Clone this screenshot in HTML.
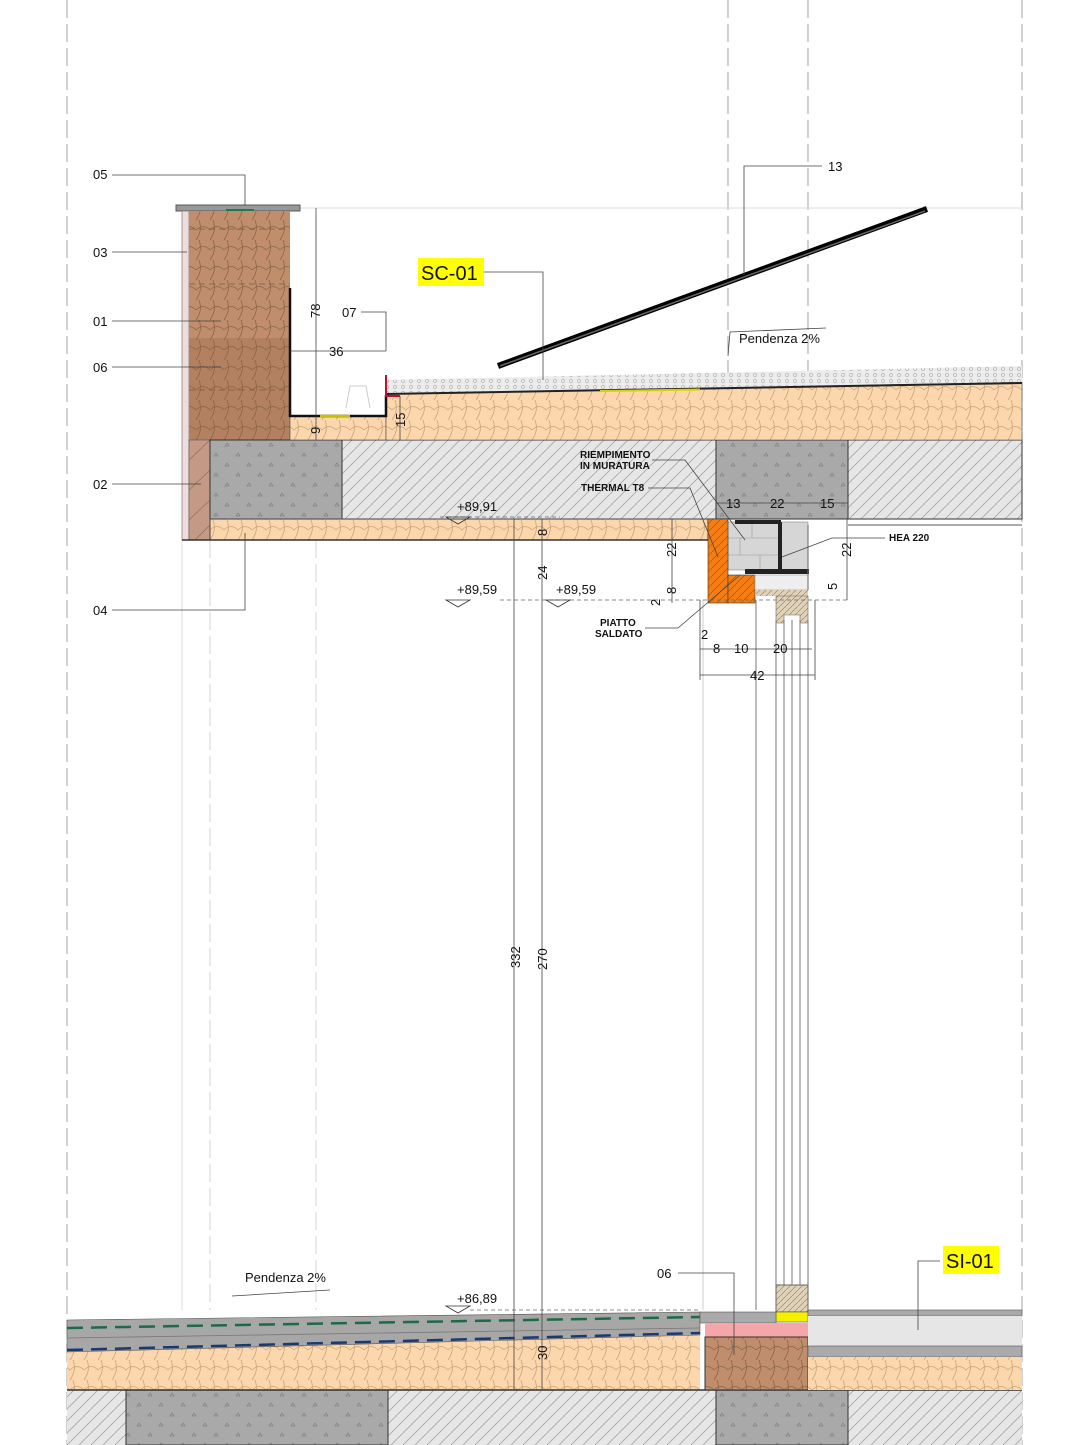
<!DOCTYPE html>
<html><head><meta charset="utf-8"><style>
html,body{margin:0;padding:0;background:#fff}
svg{display:block}
text{font-family:"Liberation Sans",sans-serif;font-size:13px;fill:#111}
.s{font-size:10px;font-weight:bold}
</style></head><body>
<svg width="1080" height="1445" viewBox="0 0 1080 1445" xmlns="http://www.w3.org/2000/svg">
<defs>
<pattern id="ins" width="28" height="20" patternUnits="userSpaceOnUse">
<rect width="28" height="20" fill="#fcd6ac"/>
<path d="M0 20 Q7 10 3 0 M14 20 Q21 10 17 0 M0 10 Q7 3 14 10 Q21 3 28 10" stroke="#c9a37a" stroke-width="0.8" fill="none"/>
</pattern>
<pattern id="insb" width="28" height="20" patternUnits="userSpaceOnUse">
<rect width="28" height="20" fill="#c08e6c"/>
<path d="M0 20 Q7 10 3 0 M14 20 Q21 10 17 0 M0 10 Q7 3 14 10 Q21 3 28 10" stroke="#8a6448" stroke-width="0.8" fill="none"/>
</pattern>
<pattern id="hat" width="12" height="12" patternUnits="userSpaceOnUse">
<rect width="12" height="12" fill="#e6e6e6"/>
<path d="M0 12 L12 0 M-3 3 L3 -3 M9 15 L15 9" stroke="#9a9a9a" stroke-width="0.7"/>
</pattern>
<pattern id="con" width="22" height="20" patternUnits="userSpaceOnUse">
<rect width="22" height="20" fill="#a9a9a9"/>
<path d="M5 6 l2 -3 l2 3z M16 16 l2 -3 l2 3z" fill="none" stroke="#777" stroke-width="0.6"/>
</pattern>
<pattern id="gra" width="8" height="6" patternUnits="userSpaceOnUse">
<rect width="8" height="6" fill="#ececec"/><circle cx="3" cy="3" r="1.6" fill="none" stroke="#aaa" stroke-width="0.6"/>
</pattern>
<pattern id="orh" width="8" height="8" patternUnits="userSpaceOnUse">
<rect width="8" height="8" fill="#f57d12"/><path d="M0 8 L8 0" stroke="#b55408" stroke-width="0.7"/>
</pattern>
<pattern id="wd" width="6" height="6" patternUnits="userSpaceOnUse">
<rect width="6" height="6" fill="#e0d2b8"/><path d="M0 6 L6 0" stroke="#8a7a60" stroke-width="0.6"/>
</pattern>
</defs>

<g stroke="#999" stroke-width="0.9" stroke-dasharray="18 6" fill="none">
<line x1="67" y1="0" x2="67" y2="1445"/>
<line x1="1022" y1="0" x2="1022" y2="1445"/>
<line x1="728" y1="0" x2="728" y2="440"/>
<line x1="808" y1="0" x2="808" y2="440"/>
</g>
<g stroke="#d4d4d4" stroke-width="1" stroke-dasharray="18 6" fill="none">
<line x1="210" y1="540" x2="210" y2="1310"/>
<line x1="316" y1="540" x2="316" y2="1310"/>
</g>
<line x1="182" y1="540" x2="182" y2="1310" stroke="#ddd"/>
<line x1="300" y1="208" x2="1022" y2="208" stroke="#ddd"/>

<rect x="176" y="205" width="124" height="6" fill="#999" stroke="#555"/>
<rect x="226" y="209" width="28" height="3" fill="#1a7a50"/>
<rect x="182" y="211" width="7" height="329" fill="#f0dcdc" stroke="#666" stroke-width="0.6"/>
<rect x="189" y="211" width="101" height="229" fill="url(#insb)"/>
<rect x="189" y="338" width="101" height="102" fill="#8a5a3a" opacity="0.25"/>
<g stroke="#7a5a40" stroke-dasharray="6 4" stroke-width="0.7"><line x1="189" y1="229" x2="290" y2="229"/><line x1="189" y1="284" x2="290" y2="284"/><line x1="189" y1="390" x2="290" y2="390"/></g>
<rect x="189" y="440" width="21" height="100" fill="#c59a84" stroke="#555" stroke-width="0.6"/>
<path d="M189 460 L210 440 M189 490 L210 470 M189 520 L210 500 M195 540 L210 525" stroke="#8a6a5a" stroke-width="0.6"/>

<rect x="210" y="440" width="132" height="79" fill="url(#con)" stroke="#333"/>
<rect x="342" y="440" width="374" height="79" fill="url(#hat)" stroke="#333"/>
<rect x="716" y="440" width="132" height="79" fill="url(#con)" stroke="#333"/>
<rect x="848" y="440" width="174" height="79" fill="url(#hat)" stroke="#333"/>
<rect x="210" y="519" width="498" height="21" fill="url(#ins)" stroke="#444"/>
<line x1="182" y1="540" x2="708" y2="540" stroke="#333" stroke-width="1.5"/>
<line x1="848" y1="519" x2="1022" y2="519" stroke="#333"/><line x1="848" y1="525" x2="1022" y2="525" stroke="#555"/>

<rect x="290" y="416" width="96" height="24" fill="url(#ins)" stroke="#444" stroke-width="0.6"/>
<polygon points="386,393 1022,382 1022,440 386,440" fill="url(#ins)" stroke="#444" stroke-width="0.6"/>
<polygon points="386,380 1022,366 1022,382 386,394" fill="url(#gra)"/>
<polyline points="386,394 1022,383" stroke="#222" stroke-width="2" fill="none"/>
<polyline points="600,391 700,389.5 M760,388 900,386" stroke="#d8d000" stroke-width="2" fill="none"/>
<path d="M290 288 L290 416 L386 416 L386 395" stroke="#111" stroke-width="2.5" fill="none"/>
<line x1="320" y1="416" x2="350" y2="416" stroke="#c8c000" stroke-width="2.5"/>
<path d="M386 375 L386 396 L400 396" stroke="#c0102a" stroke-width="2" fill="none"/>
<path d="M346 408 L350 386 L366 386 L370 408" stroke="#ccc" fill="none"/>

<line x1="498" y1="366" x2="927" y2="209" stroke="#000" stroke-width="6"/>
<line x1="500" y1="366" x2="925" y2="211" stroke="#666" stroke-width="1.5"/>

<rect x="728" y="522" width="52" height="48" fill="#d6d6d6" stroke="#888" stroke-width="0.6"/>
<rect x="780" y="522" width="28" height="48" fill="#d6d6d6" stroke="#888" stroke-width="0.6"/>
<path d="M728 538 H780 M728 555 H780 M752 522 V538 M740 538 V555 M760 555 V570" stroke="#999" stroke-width="0.6"/>
<rect x="735" y="520" width="46" height="4" fill="#222"/>
<rect x="778" y="522" width="4" height="50" fill="#222"/>
<rect x="745" y="569" width="64" height="5" fill="#222"/>
<rect x="708" y="519" width="20" height="84" fill="url(#orh)" stroke="#333" stroke-width="0.6"/>
<rect x="728" y="575" width="27" height="28" fill="url(#orh)" stroke="#333" stroke-width="0.6"/>
<rect x="755" y="575" width="53" height="15" fill="#eee" stroke="#999" stroke-width="0.6"/>
<rect x="756" y="590" width="52" height="6" fill="url(#wd)"/>
<path d="M776 596 H808 V623 H800 V615 H784 V623 H776 Z" fill="url(#wd)" stroke="#666" stroke-width="0.6"/>
<line x1="808" y1="525" x2="808" y2="590" stroke="#666"/>

<g stroke="#777" stroke-width="1"><line x1="756" y1="600" x2="756" y2="1310"/><line x1="776" y1="620" x2="776" y2="1290"/><line x1="784" y1="620" x2="784" y2="1285"/><line x1="792" y1="620" x2="792" y2="1285"/><line x1="800" y1="620" x2="800" y2="1290"/><line x1="808" y1="620" x2="808" y2="1310"/><line x1="703" y1="600" x2="703" y2="1310" stroke="#ccc"/></g>
<path d="M776 1285 H808 V1312 H776 Z" fill="url(#wd)" stroke="#666"/>
<rect x="776" y="1312" width="32" height="10" fill="#f5f000" stroke="#555" stroke-width="0.6"/>

<polygon points="67,1324 700,1314 700,1340 67,1357" fill="url(#ins)"/>
<polygon points="67,1357 700,1340 700,1390 67,1390" fill="url(#ins)"/>
<polygon points="67,1320 700,1312 700,1335 67,1352" fill="#a7a7a7" stroke="#555" stroke-width="0.6"/>
<line x1="67" y1="1328" x2="700" y2="1317" stroke="#1e6a46" stroke-width="2.5" stroke-dasharray="16 8"/>
<line x1="67" y1="1350" x2="700" y2="1333" stroke="#1a3a6e" stroke-width="2.5" stroke-dasharray="16 8"/>
<line x1="67" y1="1338" x2="700" y2="1328" stroke="#777" stroke-width="0.8"/>
<rect x="67" y="1390" width="955" height="55" fill="url(#hat)"/>
<rect x="126" y="1390" width="262" height="55" fill="url(#con)" stroke="#333"/>
<rect x="716" y="1390" width="132" height="55" fill="url(#con)" stroke="#333"/>
<line x1="67" y1="1390" x2="1022" y2="1390" stroke="#333" stroke-width="1.5"/>
<rect x="700" y="1312" width="76" height="11" fill="#aaa" stroke="#555" stroke-width="0.6"/>
<rect x="705" y="1323" width="103" height="14" fill="#f5a6a8"/>
<rect x="705" y="1337" width="103" height="53" fill="url(#insb)" stroke="#333"/>
<rect x="808" y="1310" width="214" height="6" fill="#aaa" stroke="#555" stroke-width="0.6"/>
<rect x="808" y="1316" width="214" height="30" fill="#e6e6e6"/>
<rect x="808" y="1346" width="214" height="11" fill="#aaa" stroke="#555" stroke-width="0.6"/>
<rect x="808" y="1357" width="214" height="33" fill="url(#ins)"/>

<g stroke="#444" stroke-width="0.8" fill="none">
<line x1="316" y1="208" x2="316" y2="440"/>
<line x1="290" y1="351" x2="386" y2="351"/>
<line x1="400" y1="396" x2="400" y2="440"/>
<line x1="514" y1="519" x2="514" y2="1390"/>
<line x1="542" y1="519" x2="542" y2="1390"/>
<line x1="672" y1="519" x2="672" y2="603"/>
<line x1="847" y1="519" x2="847" y2="600"/>
<line x1="716" y1="503" x2="848" y2="503"/>
<line x1="700" y1="649" x2="812" y2="649"/>
<line x1="700" y1="675" x2="815" y2="675"/>
<line x1="700" y1="600" x2="700" y2="680"/>
<line x1="815" y1="600" x2="815" y2="680"/>
<path d="M112 175 H245 V205"/><path d="M112 252 H187"/><path d="M112 321 H221"/><path d="M112 367 H221"/>
<path d="M112 484 H201"/><path d="M112 610 H245 V533"/>
<path d="M361 312 H386 V351"/>
<path d="M484 272 H543 V380"/>
<path d="M822 166 H744 V275"/>
<path d="M652 460 H685 L745 540"/><path d="M648 488 H690 L718 557"/>
<path d="M645 628 H678 L740 575"/>
<path d="M885 538 H832 L782 557"/>
<path d="M678 1273 H734 V1355"/><path d="M940 1261 H918 V1330"/>
<path d="M826 328 L730 332 L728 356"/><path d="M232 1296 L330 1290"/>
</g>
<g stroke="#666" stroke-width="0.8" stroke-dasharray="4 3"><line x1="500" y1="600" x2="850" y2="600"/><line x1="440" y1="517" x2="560" y2="517"/><line x1="470" y1="1310" x2="700" y2="1310"/></g>
<g fill="none" stroke="#333" stroke-width="0.8">
<path d="M446 517 L470 517 L458 524 Z"/><path d="M446 600 L470 600 L458 607 Z"/><path d="M546 600 L570 600 L558 607 Z"/><path d="M446 1306 L470 1306 L458 1313 Z"/>
</g>

<text x="93" y="179">05</text><text x="93" y="257">03</text><text x="93" y="326">01</text><text x="93" y="372">06</text><text x="93" y="489">02</text><text x="93" y="615">04</text>
<text x="342" y="317">07</text><text x="329" y="356">36</text>
<text x="828" y="171">13</text>
<rect x="418" y="258" width="66" height="28" fill="#ffff00"/><text x="421" y="280" style="font-size:20px">SC-01</text>
<text x="739" y="343">Pendenza 2%</text>
<text x="457" y="511">+89,91</text><text x="457" y="594">+89,59</text><text x="556" y="594">+89,59</text><text x="457" y="1303">+86,89</text>
<text class="s" x="580" y="458">RIEMPIMENTO</text><text class="s" x="580" y="469">IN MURATURA</text>
<text class="s" x="581" y="491">THERMAL T8</text>
<text class="s" x="600" y="626">PIATTO</text><text class="s" x="595" y="637">SALDATO</text>
<text class="s" x="889" y="541">HEA 220</text>
<text x="726" y="508">13</text><text x="770" y="508">22</text><text x="820" y="508">15</text>
<text x="701" y="639">2</text><text x="713" y="653">8</text><text x="734" y="653">10</text><text x="773" y="653">20</text><text x="750" y="680">42</text>
<text x="245" y="1282">Pendenza 2%</text>
<text x="657" y="1278">06</text>
<rect x="943" y="1246" width="56" height="28" fill="#ffff00"/><text x="946" y="1268" style="font-size:20px">SI-01</text>
<g>
<text transform="translate(320,318) rotate(-90)">78</text>
<text transform="translate(320,434) rotate(-90)">9</text>
<text transform="translate(405,427) rotate(-90)">15</text>
<text transform="translate(547,536) rotate(-90)">8</text>
<text transform="translate(547,580) rotate(-90)">24</text>
<text transform="translate(676,557) rotate(-90)">22</text>
<text transform="translate(676,594) rotate(-90)">8</text>
<text transform="translate(660,606) rotate(-90)">2</text>
<text transform="translate(851,557) rotate(-90)">22</text>
<text transform="translate(837,590) rotate(-90)">5</text>
<text transform="translate(520,968) rotate(-90)">332</text>
<text transform="translate(547,970) rotate(-90)">270</text>
<text transform="translate(547,1360) rotate(-90)">30</text>
</g>
</svg>
</body></html>
